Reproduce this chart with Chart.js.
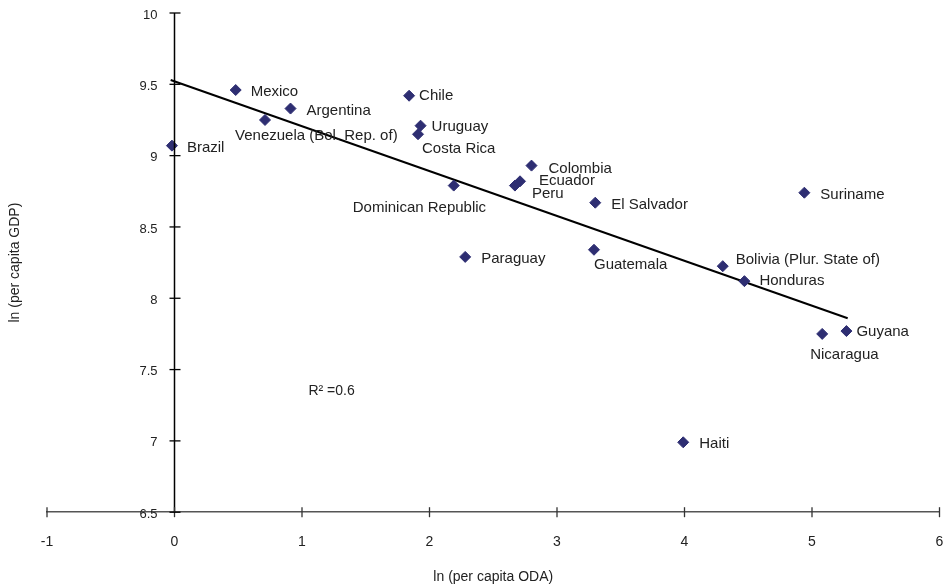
<!DOCTYPE html>
<html>
<head>
<meta charset="utf-8">
<script src="https://cdn.jsdelivr.net/npm/chart.js@4"></script>
<style>
  body { margin: 0; background: #fff; }
</style>
</head>
<body>
<canvas id="chart" width="946" height="587"></canvas>
<script>
// Datos
const countries = [
  "Brazil", "Mexico", "Venezuela (Bol. Rep. of)", "Argentina", "Chile",
  "Uruguay", "Costa Rica", "Dominican Republic", "Paraguay", "Colombia",
  "Ecuador", "Peru", "El Salvador", "Guatemala", "Haiti",
  "Suriname", "Bolivia (Plur. State of)", "Honduras", "Nicaragua", "Guyana"
];
const odaLn = [
  -0.02, 0.48, 0.71, 0.91, 1.84,
  1.93, 1.91, 2.19, 2.28, 2.80,
  2.71, 2.67, 3.30, 3.29, 3.99,
  4.94, 4.30, 4.47, 5.08, 5.27
];
const gdpLn = [
  9.07, 9.46, 9.25, 9.33, 9.42,
  9.21, 9.15, 8.79, 8.29, 8.93,
  8.82, 8.79, 8.67, 8.34, 6.99,
  8.74, 8.225, 8.12, 7.75, 7.77
];
const trendX = [-0.03, 5.28];
const trendY = [9.53, 7.86];
const rSquared = "R\u00B2 =0.6";

const FONT = "'Liberation Sans', Arial, Helvetica, sans-serif";

// desplazamiento de cada etiqueta respecto a su punto (px)
const labelOffsets = {
  "Brazil": [15, 2], "Mexico": [15, 2], "Venezuela (Bol. Rep. of)": [-30, 16],
  "Argentina": [16, 2], "Chile": [10, 0], "Uruguay": [11, 1],
  "Costa Rica": [4, 15], "Dominican Republic": [-101, 22], "Paraguay": [16, 2],
  "Colombia": [17, 3], "Ecuador": [19, 0], "Peru": [17, 8],
  "El Salvador": [16, 2], "Guatemala": [0, 15], "Haiti": [16, 2],
  "Suriname": [16, 2], "Bolivia (Plur. State of)": [13, -6], "Honduras": [15, 0],
  "Nicaragua": [-12, 21], "Guyana": [10, 1]
};

const extrasPlugin = {
  id: "extras",
  afterDraw(chart) {
    const { ctx, scales: { x, y }, chartArea } = chart;
    ctx.save();

    const y0 = y.getPixelForValue(6.5);
    const x0 = x.getPixelForValue(0);

    // eje Y en x = 0
    ctx.lineWidth = 1.5;
    ctx.strokeStyle = "#000";
    ctx.beginPath();
    ctx.moveTo(x0, y.getPixelForValue(10));
    ctx.lineTo(x0, y0);
    ctx.stroke();

    // marcas que cruzan los ejes
    ctx.lineWidth = 1.3;
    ctx.strokeStyle = "#333";
    x.ticks.forEach((t) => {
      const px = x.getPixelForValue(t.value);
      ctx.beginPath();
      ctx.moveTo(px, y0 - 5);
      ctx.lineTo(px, y0 + 5);
      ctx.stroke();
    });
    ctx.strokeStyle = "#000";
    ctx.fillStyle = "#222";
    ctx.font = "13px " + FONT;
    ctx.textAlign = "right";
    ctx.textBaseline = "middle";
    y.ticks.forEach((t) => {
      const py = y.getPixelForValue(t.value);
      ctx.beginPath();
      ctx.moveTo(x0 - 5, py);
      ctx.lineTo(x0 + 6, py);
      ctx.stroke();
      ctx.fillText(String(t.value), x0 - 17, py + 2);
    });

    // etiquetas de países
    ctx.font = "15px " + FONT;
    ctx.textAlign = "left";
    countries.forEach((name, i) => {
      const off = labelOffsets[name] || [12, 0];
      const px = x.getPixelForValue(odaLn[i]);
      const py = y.getPixelForValue(gdpLn[i]);
      ctx.fillText(name, px + off[0], py + off[1]);
    });

    // R²
    ctx.font = "14px " + FONT;
    ctx.fillText(rSquared, x.getPixelForValue(1.05), y.getPixelForValue(7.35));

    // títulos de ejes
    ctx.textAlign = "center";
    ctx.fillText("ln (per capita ODA)", (chartArea.left + chartArea.right) / 2, 577);
    ctx.translate(15, (chartArea.top + chartArea.bottom) / 2);
    ctx.rotate(-Math.PI / 2);
    ctx.fillText("ln (per capita GDP)", 0, 0);
    ctx.restore();
  }
};

const ctx = document.getElementById("chart").getContext("2d");
new Chart(ctx, {
  type: "scatter",
  data: {
    datasets: [
      {
        label: "Countries",
        data: odaLn.map((v, i) => ({ x: v, y: gdpLn[i] })),
        pointStyle: "rectRot",
        pointRadius: 5.5,
        pointHoverRadius: 5.5,
        backgroundColor: "#2e2e72",
        borderColor: "#2e2e72",
        borderWidth: 1,
      },
      {
        label: "Trend",
        type: "line",
        data: trendX.map((v, i) => ({ x: v, y: trendY[i] })),
        borderColor: "#000",
        borderWidth: 2,
        pointRadius: 0,
        fill: false,
      },
    ],
  },
  options: {
    responsive: false,
    animation: false,
    layout: { padding: { left: 47, right: 0, top: 13, bottom: 36 } },
    plugins: {
      legend: { display: false },
      tooltip: { enabled: false },
    },
    scales: {
      x: {
        type: "linear",
        min: -1,
        max: 6,
        ticks: { stepSize: 1, padding: 0, color: "#222", font: { size: 14, family: FONT } },
        grid: { drawOnChartArea: false, drawTicks: true, tickLength: 22, tickColor: "rgba(0,0,0,0)" },
        border: { color: "#555", width: 1.5 },
      },
      y: {
        type: "linear",
        position: "left",
        min: 6.5,
        max: 10,
        ticks: { stepSize: 0.5, display: false },
        grid: { display: false, drawTicks: false },
        border: { display: false },
      },
    },
  },
  plugins: [extrasPlugin],
});
</script>
</body>
</html>
